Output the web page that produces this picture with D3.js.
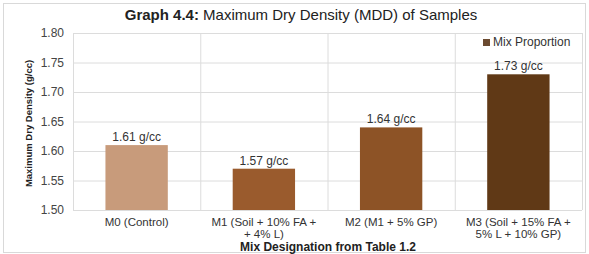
<!DOCTYPE html>
<html>
<head>
<meta charset="utf-8">
<script src="https://cdn.jsdelivr.net/npm/d3@7.9.0/dist/d3.min.js"></script>
<style>
  body { margin: 0; background: #fff; }
  svg { display: block; font-family: "Liberation Sans", Arial, sans-serif; }
</style>
</head>
<body>
<div id="chart"></div>
<script>
const categories = ['M0 (Control)', 'M1 (Soil + 10% FA +|+ 4% L)', 'M2 (M1 + 5% GP)', 'M3 (Soil + 15% FA +|5% L + 10% GP)'];
const mdd = [1.61, 1.57, 1.64, 1.73];
const barColors = ['#c89b7b', '#9a5b2d', '#8d5326', '#603916'];
const yTicks = [1.50, 1.55, 1.60, 1.65, 1.70, 1.75, 1.80];

const width = 589, height = 254;
const margin = { top: 33, right: 7, bottom: 44, left: 73 };

const svg = d3.select('#chart').append('svg')
  .attr('width', width)
  .attr('height', height);

// outer frame
svg.append('rect')
  .attr('x', 3.5).attr('y', 3.5)
  .attr('width', width - 7).attr('height', height - 5)
  .attr('fill', 'none')
  .attr('stroke', '#d9d9d9');

const x = d3.scaleBand()
  .domain(categories)
  .range([margin.left, width - margin.right])
  .paddingInner(0)
  .paddingOuter(0);

const y = d3.scaleLinear()
  .domain([1.5, 1.8])
  .range([height - margin.bottom, margin.top]);

// horizontal gridlines
svg.append('g')
  .attr('transform', `translate(${margin.left},0)`)
  .call(d3.axisLeft(y).tickValues(yTicks).tickFormat('').tickSize(-(width - margin.left - margin.right)))
  .call(g => g.select('.domain').remove())
  .call(g => g.selectAll('line').attr('stroke', '#dcdcdc'));

// vertical gridlines at category edges
const edges = categories.map(c => x(c)).concat([x.range()[1]]);
svg.append('g').selectAll('line')
  .data(edges)
  .join('line')
  .attr('x1', d => d + 0.5).attr('x2', d => d + 0.5)
  .attr('y1', y(1.8)).attr('y2', y(1.5))
  .attr('stroke', '#dcdcdc');

// bars
const bw = x.bandwidth() * 0.49;
svg.append('g').selectAll('rect')
  .data(mdd)
  .join('rect')
  .attr('x', (d, i) => x(categories[i]) + (x.bandwidth() - bw) / 2)
  .attr('y', d => y(d))
  .attr('width', bw)
  .attr('height', d => y(1.5) - y(d))
  .attr('fill', (d, i) => barColors[i]);

// value labels
svg.append('g').selectAll('text')
  .data(mdd)
  .join('text')
  .attr('x', (d, i) => x(categories[i]) + x.bandwidth() / 2)
  .attr('y', d => y(d) - 4)
  .attr('text-anchor', 'middle')
  .attr('font-size', 12)
  .attr('fill', '#333')
  .text(d => d.toFixed(2) + ' g/cc');

// y axis labels
svg.append('g')
  .attr('transform', `translate(${margin.left},0)`)
  .call(d3.axisLeft(y).tickValues(yTicks).tickFormat(d3.format('.2f')).tickSize(0).tickPadding(9))
  .call(g => g.select('.domain').remove())
  .call(g => g.selectAll('text').attr('font-size', 12).attr('fill', '#444'));

// x axis labels (two lines where needed)
const xAxis = svg.append('g')
  .attr('transform', `translate(0,${y(1.5)})`)
  .call(d3.axisBottom(x).tickSize(0).tickFormat(''))
  .call(g => g.select('.domain').remove());

xAxis.selectAll('.tick').each(function(d) {
  const t = d3.select(this).select('text')
    .attr('font-size', 11.5)
    .attr('fill', '#333')
    .attr('dy', null)
    .attr('y', 16);
  d.split('|').forEach((line, i) => {
    t.append('tspan').attr('x', 0).attr('dy', i === 0 ? 0 : 12).text(line);
  });
});

// title
const title = svg.append('text')
  .attr('x', 301).attr('y', 20)
  .attr('text-anchor', 'middle')
  .attr('font-size', 15)
  .attr('fill', '#222');
title.append('tspan').attr('font-weight', 'bold').text('Graph 4.4:');
title.append('tspan').text(' Maximum Dry Density (MDD) of Samples');

// axis titles
svg.append('text')
  .attr('transform', `translate(32,${(y(1.5) + y(1.8)) / 2 + 2}) rotate(-90)`)
  .attr('text-anchor', 'middle')
  .attr('font-size', 9.5)
  .attr('font-weight', 'bold')
  .attr('fill', '#222')
  .text('Maximum Dry Density (g/cc)');

svg.append('text')
  .attr('x', 328).attr('y', 251)
  .attr('text-anchor', 'middle')
  .attr('font-size', 12)
  .attr('font-weight', 'bold')
  .attr('fill', '#222')
  .text('Mix Designation from Table 1.2');

// legend
const legend = svg.append('g').attr('transform', 'translate(483,46)');
legend.append('rect').attr('x', 0).attr('y', -7).attr('width', 7).attr('height', 7).attr('fill', '#6b4a30');
legend.append('text').attr('x', 10).attr('y', 0).attr('font-size', 12).attr('fill', '#333').text('Mix Proportion');
</script>
</body>
</html>
